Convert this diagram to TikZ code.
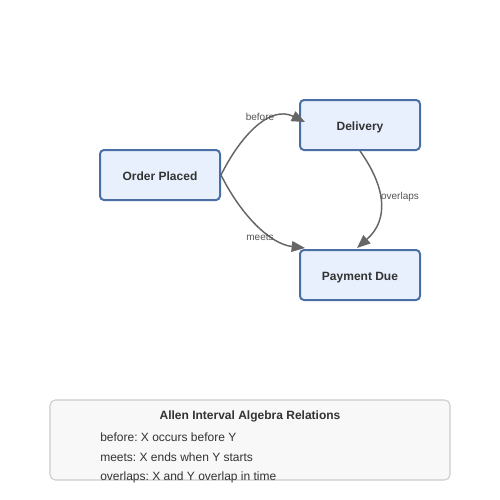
\documentclass[tikz,border=0pt]{standalone}
\usepackage{fontspec}
\setmainfont{Liberation Sans}
\frenchspacing
\usetikzlibrary{arrows.meta,calc}
\definecolor{nodefill}{HTML}{E8F0FE}
\definecolor{nodeborder}{HTML}{4A6FA5}
\definecolor{edgecol}{HTML}{666666}
\definecolor{labelcol}{HTML}{555555}
\definecolor{textcol}{HTML}{333333}
\definecolor{legfill}{HTML}{F8F8F8}
\definecolor{legborder}{HTML}{CCCCCC}
\tikzset{
  statebox/.style={draw=nodeborder, fill=nodefill, line width=1.5pt, rounded corners=3pt,
    minimum width=90pt, minimum height=37.5pt, inner sep=0pt, text height=8pt, text depth=0pt,
    font=\fontsize{9}{11}\selectfont\bfseries, text=textcol},
  rel/.style={draw=edgecol, line width=1.1pt, -{Triangle[length=10pt,width=8pt]}},
  rellabel/.style={font=\fontsize{7.5}{9}\selectfont, text=labelcol, inner sep=0pt},
  legtext/.style={font=\fontsize{9}{11}\selectfont, text=textcol, inner sep=0pt, anchor=west},
}
\begin{document}
\begin{tikzpicture}[x=0.75pt,y=-0.75pt]
\useasboundingbox (0,0) rectangle (500,500);
\fill[white] (0,0) rectangle (500,500);
\node[statebox] (op) at (160,175) {Order Placed};
\node[statebox] (del) at (360,125) {Delivery};
\node[statebox] (pay) at (360,275) {Payment Due};
\draw[rel] (op.east) .. controls +(20,-40) and +(-35,-17) .. ([shift={(6,-3)}]del.west);
\draw[rel] (op.east) .. controls +(20,40) and +(-35,-4) .. ([shift={(6,-1)}]pay.north west);
\draw[rel] (del.south) .. controls +(25,35) and +(33,-29) .. ([shift={(-3,-1)}]pay.north);
\node[rellabel] (lb) at (260,117) {before};
\node[rellabel] (lm) at (260,237) {meets};
\node[rellabel] (lo) at (400,197) {overlaps};
\node[draw=legborder, fill=legfill, line width=0.8pt, rounded corners=4pt,
  minimum width=300pt, minimum height=60pt, inner sep=0pt] (leg) at (250,440) {};
\node[font=\fontsize{9}{11}\selectfont\bfseries, text=textcol, inner sep=0pt] (lt) at (250,416) {Allen Interval Algebra Relations};
\node[legtext] (l1) at (100,437) {before: X occurs before Y};
\node[legtext] (l2) at (100,457) {meets: X ends when Y starts};
\node[legtext] (l3) at (100,477) {overlaps: X and Y overlap in time};
\end{tikzpicture}
\end{document}
